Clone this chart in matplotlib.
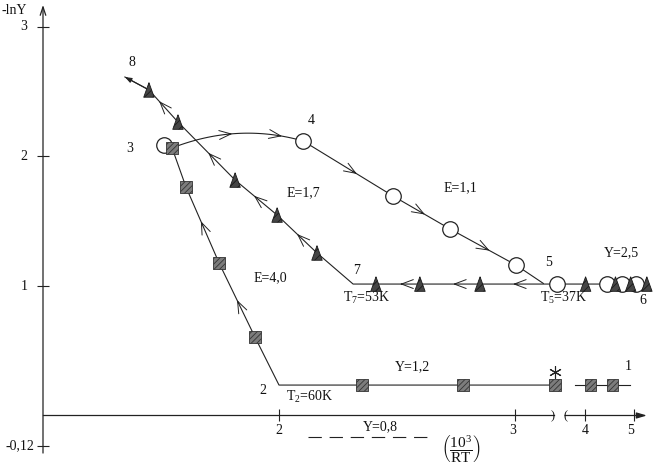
import numpy as np
import matplotlib.pyplot as plt

plt.rcParams['font.family'] = 'Liberation Serif'
plt.rcParams['mathtext.fontset'] = 'custom'
plt.rcParams['mathtext.rm'] = 'Liberation Serif'
plt.rcParams['mathtext.it'] = 'Liberation Serif:italic'
plt.rcParams['mathtext.default'] = 'regular'
plt.rcParams['hatch.linewidth'] = 0.6

W, H = 656, 475
INK = '#222222'

# ---- data: x = 10^3/RT, y = -lnY ----
# squares, route 1 -> 2 -> 3 (index 3 is the corner point 2, no marker)
sq_x = [3.169, 2.780, 2.352, 2.0, 1.898, 1.746, 1.606, 1.547]
sq_y = [0.235, 0.235, 0.235, 0.235, 0.606, 1.178, 1.764, 2.066]
sq_mark = [0, 1, 2, 4, 5, 6, 7]
# squares beyond the axis break (line ends carry no marker)
sq2_x = [3.80, 4.12, 4.57, 4.92]
sq2_y = [0.235, 0.235, 0.235, 0.235]
sq2_mark = [1, 2]

# triangles, route 6 -> 7 -> 8
tri_x = [5.27, 4.94, 4.63, 4.02, 3.25, 2.852, 2.597, 2.411, 2.314,
         2.161, 1.992, 1.814, 1.572, 1.449, 1.347]
tri_y = [1.015, 1.015, 1.015, 1.015, 1.015, 1.015, 1.015, 1.015, 1.015,
         1.255, 1.548, 1.818, 2.266, 2.514, 2.614]
tri_mark = [0, 1, 2, 3, 5, 6, 7, 9, 10, 11, 12, 13]

# circles, route 4 -> 5 (last vertex lands on the Y=2,5 line)
ci_x = [2.102, 2.483, 2.725, 3.004, 3.12]
ci_y = [2.12, 1.695, 1.44, 1.162, 1.02]
ci_mark = [0, 1, 2, 3]
ci3_x, ci3_y = 1.513, 2.089
ci_right_x = [3.25, 4.45, 4.76, 5.04]
ci_right_y = [1.015, 1.015, 1.015, 1.015]

# arrows along the routes: (segment start index, fraction along segment)
sq_arrows = [(4, 0.5), (5, 0.55)]
tri_arrows = [(4, 0.65), (5, 0.45), (6, 0.45), (9, 0.5), (10, 0.55), (11, 0.47), (12, 0.65)]
ci_arrows = [(0, 0.6), (1, 0.56), (2, 0.6)]

x_ticks = [2, 3, 4, 5]
y_ticks = [3, 2, 1]

# ---- broken x axis: linear up to 3.17, squeezed gap, then compressed ----
A, B, UB, K = 3.17, 3.6, 3.212, 0.2076


def fwd(x):
    x = np.asarray(x, dtype=float)
    return np.where(x <= A, x,
                    np.where(x <= B, A + (x - A) * (UB - A) / (B - A),
                             UB + (x - B) * K))


def inv(u):
    u = np.asarray(u, dtype=float)
    return np.where(u <= A, u,
                    np.where(u <= UB, A + (u - A) * (B - A) / (UB - A),
                             B + (u - UB) / K))


fig = plt.figure(figsize=(W / 100, H / 100), dpi=100)
ax = fig.add_axes([0, 0, 1, 1])
ax.set_xscale('function', functions=(fwd, inv))
ax.set_xlim(0.8178, 5.457)
ax.set_ylim(-0.4595, 3.2085)
ax.axis('off')


def txt(px, py, s, size=10, ha='center'):
    ax.text(px / W, 1 - py / H, s, transform=ax.transAxes, ha=ha, va='center',
            fontsize=size, color='#111111')


def chevron(xs, ys, i, f):
    x0, y0, x1, y1 = xs[i], ys[i], xs[i + 1], ys[i + 1]
    p = (x0 + f * (x1 - x0), y0 + f * (y1 - y0))
    q = (x0 + (f - 0.05) * (x1 - x0), y0 + (f - 0.05) * (y1 - y0))
    ax.annotate('', xy=p, xytext=q,
                arrowprops=dict(arrowstyle='->,head_length=0.85,head_width=0.32',
                                lw=0.7, color=INK, shrinkA=0, shrinkB=0,
                                mutation_scale=10))


# ---- axes drawn by hand ----
ax.annotate('', xy=(1, 3.17), xytext=(1, -0.29),
            arrowprops=dict(arrowstyle='->,head_length=0.6,head_width=0.2',
                            lw=0.9, color=INK, shrinkA=0, shrinkB=0))
ax.plot([1, 3.165], [0, 0], color=INK, lw=0.9)
ax.annotate('', xy=(5.27, 0), xytext=(3.6, 0),
            arrowprops=dict(arrowstyle='-|>,head_length=0.6,head_width=0.18',
                            lw=0.9, color=INK, shrinkA=0, shrinkB=0))
ax.plot(x_ticks, [0] * len(x_ticks), ls='', marker='|', ms=9, mew=0.8, color=INK)
ax.plot([1] * len(y_ticks), y_ticks, ls='', marker='_', ms=8, mew=0.8, color=INK)
ax.plot([1], [-0.235], ls='', marker='_', ms=8, mew=0.8, color=INK)
txt(553, 416, ')', size=9)
txt(565, 416, '(', size=9)

for px, s in zip([279, 513, 585, 631], x_ticks):
    txt(px, 430, str(s))
for py, s in zip([27, 157, 286], y_ticks):
    txt(24, py, str(s))
txt(20, 446, '-0,12')
txt(2, 10, '-lnY', ha='left')

# dashed Y=0,8 guide
ax.plot([2.123, 2.648], [-0.166, -0.166], color=INK, lw=0.8, dashes=(12, 7))
txt(380, 427, 'Y=0,8')
txt(461, 449, r'$\left(\dfrac{10^3}{RT}\right)$', size=11)

# ---- lines ----
lk = dict(color=INK, lw=0.8, zorder=1)
ax.plot(sq_x, sq_y, **lk)
ax.plot(sq2_x, sq2_y, **lk)
ax.plot(tri_x, tri_y, **lk)
ax.plot(ci_x, ci_y, **lk)
ax.annotate('', xy=(tri_x[-1], tri_y[-1]), xytext=(tri_x[-2], tri_y[-2]),
            arrowprops=dict(arrowstyle='-|>,head_length=0.4,head_width=0.15',
                            lw=0.8, color=INK, shrinkA=0, shrinkB=0))

# curved transfer 3 -> 4
p0 = np.array([sq_x[-1], sq_y[-1]])
p2 = np.array([ci_x[0], ci_y[0]])
c = (p0 + p2) / 2 + np.array([0, 0.17])
t = np.linspace(0, 1, 60)[:, None]
bz = (1 - t) ** 2 * p0 + 2 * t * (1 - t) * c + t ** 2 * p2
ax.plot(bz[:, 0], bz[:, 1], **lk)
for tt in [0.46, 0.84]:
    pt = (1 - tt) ** 2 * p0 + 2 * tt * (1 - tt) * c + tt ** 2 * p2
    tq = tt - 0.03
    pq = (1 - tq) ** 2 * p0 + 2 * tq * (1 - tq) * c + tq ** 2 * p2
    ax.annotate('', xy=pt, xytext=pq,
                arrowprops=dict(arrowstyle='->,head_length=0.85,head_width=0.32',
                                lw=0.7, color=INK, shrinkA=0, shrinkB=0,
                                mutation_scale=10))

for i, f in sq_arrows:
    chevron(sq_x, sq_y, i, f)
for i, f in tri_arrows:
    chevron(tri_x, tri_y, i, f)
for i, f in ci_arrows:
    chevron(ci_x, ci_y, i, f)

# ---- markers ----
circ = dict(marker='o', s=125, facecolors='white', edgecolors=INK, linewidths=0.9, zorder=3)
ax.scatter([ci_x[i] for i in ci_mark], [ci_y[i] for i in ci_mark], **circ)
ax.scatter([ci3_x], [ci3_y], **circ)
ax.scatter(ci_right_x, ci_right_y, **circ)

tri_marker = [(0, 1), (-0.72, -1), (0.72, -1), (0, 1)]
ax.scatter([tri_x[i] for i in tri_mark], [tri_y[i] for i in tri_mark],
           marker=tri_marker, s=110, facecolors='#454545', edgecolors='#1a1a1a',
           linewidths=0.6, hatch='////', zorder=4)

sqk = dict(marker='s', s=72, facecolors='#7c7c7c', edgecolors='#333333',
           linewidths=0.6, hatch='//////', zorder=4)
ax.scatter([sq_x[i] for i in sq_mark], [sq_y[i] for i in sq_mark], **sqk)
ax.scatter([sq2_x[i] for i in sq2_mark], [sq2_y[i] for i in sq2_mark], **sqk)

ax.plot([555 / W], [1 - 372 / H], marker=(6, 2, 0), ms=9, mew=0.8,
        color=INK, transform=ax.transAxes)

# ---- labels ----
txt(132, 62, '8')
txt(130, 148, '3')
txt(311, 121, '4')
txt(303, 193, 'E=1,7')
txt(460, 188, 'E=1,1')
txt(270, 278, 'E=4,0')
txt(357, 270, '7')
txt(367, 298, 'T$_7$=53K')
txt(549, 262, '5')
txt(564, 298, 'T$_5$=37K')
txt(621, 253, 'Y=2,5')
txt(643, 301, '6')
txt(412, 367, 'Y=1,2')
txt(628, 366, '1')
txt(263, 391, '2')
txt(310, 397, 'T$_2$=60K')

fig.savefig('out.png', dpi=100)
